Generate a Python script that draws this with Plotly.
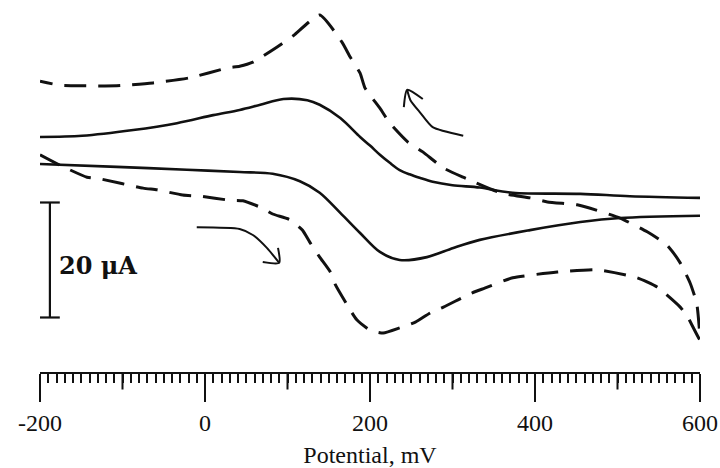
import plotly.graph_objects as go

# ---- data (potential in mV, current in µA) ----
solid_fwd_potential = [-200, -107, -22, 42, 82, 115, 139, 164, 188, 212, 236, 269, 301, 333, 394, 455, 503, 600]
solid_fwd_current = [16.7, 16.2, 15.7, 15.3, 15.0, 13.7, 11.7, 8.2, 4.7, 1.4, 0.0, 0.5, 2.1, 3.5, 5.2, 6.6, 7.3, 7.7]

solid_rev_potential = [600, 515, 455, 373, 333, 300, 276, 261, 248, 236, 224, 212, 200, 188, 164, 139, 124, 95, 67, 42, 10, -34, -87, -149, -200]
solid_rev_current = [10.8, 11.1, 11.5, 11.7, 12.6, 13.0, 13.6, 14.25, 14.9, 15.65, 16.9, 18.3, 19.9, 21.4, 24.7, 27.0, 27.8, 28.0, 27.0, 26.1, 25.2, 23.8, 22.6, 21.6, 21.4]

dash_fwd_potential = [-200, -176, -143, -127, -75, -58, -27, -6, 30, 46, 70, 82, 103, 118, 127, 139, 152, 158,
                      176, 184, 200, 216, 236, 255, 273, 289, 324, 339, 373, 427, 475, 524, 548, 576, 585, 600]
dash_fwd_current = [18.3, 16.5, 14.4, 14.1, 12.5, 12.2, 11.3, 11.1, 10.4, 10.3, 9.0, 8.0, 7.0, 5.2, 3.1, 0.5, -2.1, -4.3,
                    -8.7, -10.4, -12.2, -12.7, -11.8, -10.8, -9.2, -8.2, -5.7, -4.9, -3.1, -2.1, -1.7, -3.1, -4.7, -8.2, -9.9, -13.9]

dash_rev_potential = [599, 596, 588, 576, 560, 536, 503, 467, 451, 415, 394, 358, 313, 289, 264, 246, 224, 212,
                      194, 188, 176, 166, 139, 107, 87, 58, 42, 27, -18, -63, -107, -148, -176, -200]
dash_rev_current = [-11.6, -7.5, -4.0, -0.5, 2.6, 4.9, 7.3, 9.0, 9.6, 10.1, 10.8, 11.7, 14.4, 16.0, 18.8, 20.5, 23.8, 26.4,
                    29.9, 32.5, 35.3, 37.9, 42.6, 39.0, 37.0, 34.4, 33.7, 33.4, 31.7, 30.8, 30.3, 30.3, 30.4, 31.1]

# scan-direction arrows
arrow_rev_potential = [313, 276, 261, 249, 245]
arrow_rev_current = [21.6, 23.1, 25.6, 27.8, 29.6]
arrow_rev_head_potential = [264, 245, 241]
arrow_rev_head_current = [28.0, 29.6, 26.6]

arrow_fwd_potential = [-10, 42, 58, 75, 90]
arrow_fwd_current = [5.7, 5.4, 4.35, 2.1, -0.5]
arrow_fwd_head_potential = [88.5, 90, 70]
arrow_fwd_head_current = [2.1, -0.5, -0.35]

# 20 µA scale bar
scale_bar_potential = -188
scale_bar_current = [-10, 10]
scale_cap_potential = [-200, -176]
scale_label = "20 \u03bcA"

x_ticks = [-200, 0, 200, 400, 600]
x_mid_ticks = [-100, 100, 300, 500]
x_range = [-200, 600]
y_range = [-19.48, 45.22]

dash_potential = dash_fwd_potential + dash_rev_potential
dash_current = dash_fwd_current + dash_rev_current

W, H = 720, 468
margin_l, margin_r, margin_t, margin_b = 40, 20, 0, 96
plot_h = H - margin_t - margin_b
mid_tick_len = 19

fig = go.Figure()
black = "#111111"

fig.add_trace(go.Scatter(x=solid_fwd_potential, y=solid_fwd_current, mode="lines",
                         line=dict(color=black, width=2.6, shape="spline", smoothing=0.9)))
fig.add_trace(go.Scatter(x=solid_rev_potential, y=solid_rev_current, mode="lines",
                         line=dict(color=black, width=2.6, shape="spline", smoothing=0.9)))
fig.add_trace(go.Scatter(x=dash_potential, y=dash_current, mode="lines",
                         line=dict(color=black, width=3, dash="22px,12px", shape="spline", smoothing=0.5)))

for px_, py_ in [(arrow_rev_potential, arrow_rev_current), (arrow_rev_head_potential, arrow_rev_head_current),
                 (arrow_fwd_potential, arrow_fwd_current), (arrow_fwd_head_potential, arrow_fwd_head_current)]:
    fig.add_trace(go.Scatter(x=px_, y=py_, mode="lines",
                             line=dict(color=black, width=2, shape="spline", smoothing=0.6)))

# scale bar
fig.add_trace(go.Scatter(
    x=[scale_bar_potential, scale_bar_potential, None,
       scale_cap_potential[0], scale_cap_potential[1], None,
       scale_cap_potential[0], scale_cap_potential[1]],
    y=[scale_bar_current[0], scale_bar_current[1], None,
       scale_bar_current[0], scale_bar_current[0], None,
       scale_bar_current[1], scale_bar_current[1]],
    mode="lines", line=dict(color=black, width=2.2), cliponaxis=False))

fig.add_annotation(x=-180, y=-1.0, text="<b>" + scale_label + "</b>", showarrow=False,
                   xanchor="left", yanchor="middle",
                   font=dict(family="DejaVu Serif", size=24, color=black))

# medium-length ticks at the odd hundreds, hanging below the axis line
for v in x_mid_ticks:
    fig.add_annotation(x=v, y=0, xref="x", yref="paper", text="", showarrow=True,
                       arrowhead=0, arrowwidth=2, arrowcolor=black,
                       ax=0, ay=mid_tick_len, standoff=0, startstandoff=0)

fig.update_layout(
    width=W, height=H,
    margin=dict(l=margin_l, r=margin_r, t=margin_t, b=margin_b),
    paper_bgcolor="white", plot_bgcolor="white",
    showlegend=False,
    font=dict(family="Liberation Serif", color=black),
    xaxis=dict(
        range=x_range, tickvals=x_ticks, ticktext=[str(v) for v in x_ticks],
        ticks="outside", ticklen=28, tickwidth=2, tickcolor=black,
        ticklabelstandoff=0,
        showline=True, linecolor=black, linewidth=2,
        showgrid=False, zeroline=False, automargin=False,
        tickfont=dict(family="Liberation Serif", size=24, color=black),
        title=dict(text="Potential, mV", font=dict(family="Liberation Serif", size=24, color=black), standoff=18),
        minor=dict(dtick=10, tick0=-200, ticks="outside", ticklen=9, tickwidth=1.5, tickcolor=black, showgrid=False),
    ),
    yaxis=dict(range=y_range, visible=False, showgrid=False, zeroline=False, automargin=False),
)

fig.write_html("out.html", config={"displayModeBar": False},
               post_script="document.body.style.margin='0';document.body.style.overflow='hidden';")
